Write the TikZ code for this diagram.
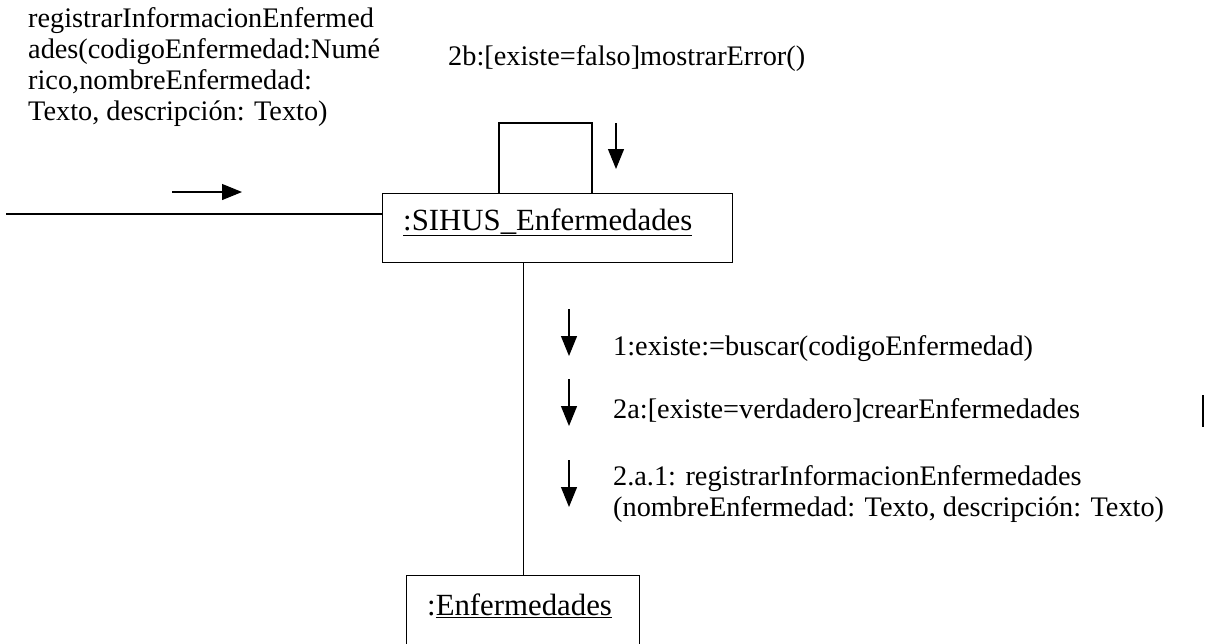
\documentclass[tikz,border=0pt]{standalone}
\usepackage{fontspec}
\setmainfont{Liberation Serif}
\usetikzlibrary{arrows.meta}
\newcommand\msgf{\fontsize{28.3pt}{31pt}\selectfont}
\newcommand\objf{\fontsize{30.8pt}{35pt}\selectfont}
\begin{document}
\begin{tikzpicture}[x=1pt,y=-1pt,
  box/.style={draw,line width=1.2pt,rectangle,inner sep=0pt},
  txt/.style={anchor=base west,inner sep=0pt,font=\msgf},
  obj/.style={anchor=base west,inner sep=0pt,font=\objf},
  link/.style={line width=1.2pt},
  msg/.style={line width=1.2pt,-{Triangle[length=20pt,width=16pt]}}]
\useasboundingbox (0,0) rectangle (1217,643);
% objects
\node[box,anchor=north west,minimum width=350pt,minimum height=69pt] (sihus) at (382,193) {};
\node[obj] (sihust) at (403,230) {\underline{:SIHUS\_Enfermedades}};
\node[box,anchor=north west,minimum width=233pt,minimum height=100pt] (enf) at (406,575) {};
\node[obj] (enft) at (427,615) {:\underline{Enfermedades}};
% incoming message text
\node[txt] (m0a) at (28,27) {registrarInformacionEnfermed};
\node[txt] (m0b) at (28,58) {ades(codigoEnfermedad:Numé};
\node[txt] (m0c) at (28,89) {rico,nombreEnfermedad:};
\node[txt] (m0d) at (28,120) {Texto, descripción: Texto)};
\node[txt] (m2b) at (448,65) {2b:[existe=falso]mostrarError()};
\node[txt] (m1) at (613,355) {1:existe:=buscar(codigoEnfermedad)};
\node[txt] (m2a) at (613,418) {2a:[existe=verdadero]crearEnfermedades};
\node[txt] (m2a1a) at (613,485) {2.a.1: registrarInformacionEnfermedades};
\node[txt] (m2a1b) at (613,516) {(nombreEnfermedad: Texto, descripción: Texto)};
% links
\coordinate (lstart) at (6,214);
\draw[link] (lstart) -- (lstart -| sihus.west);
\draw[link] ([xshift=117pt]sihus.north west) -- ++(0,-70) -| ([xshift=210pt]sihus.north west);
\draw[link] (enf.north) -- (enf.north |- sihus.south);
% message arrows
\coordinate (ra1) at (172,192); \coordinate (ra2) at (242,192);
\draw[msg] (ra1) -- (ra2);
\coordinate (sa1) at (616,123); \coordinate (sa2) at (616,169);
\draw[msg] (sa1) -- (sa2);
\coordinate (a1s) at (569,309); \coordinate (a1e) at (569,356);
\draw[msg] (a1s) -- (a1e);
\coordinate (a2s) at (569,379); \coordinate (a2e) at (569,426);
\draw[msg] (a2s) -- (a2e);
\coordinate (a3s) at (569,460); \coordinate (a3e) at (569,507);
\draw[msg] (a3s) -- (a3e);
% stray bar
\coordinate (bar1) at (1203,395); \coordinate (bar2) at (1203,427);
\draw[line width=2.5pt] (bar1) -- (bar2);
\end{tikzpicture}
\end{document}
